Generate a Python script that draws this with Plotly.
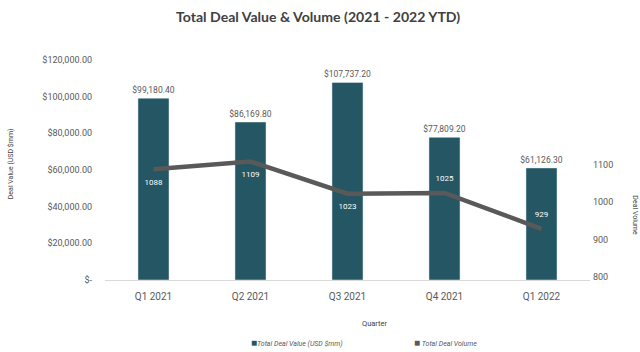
import plotly.graph_objects as go

quarters = ["Q1 2021", "Q2 2021", "Q3 2021", "Q4 2021", "Q1 2022"]
deal_value = [99180.40, 86169.80, 107737.20, 77809.20, 61126.30]
deal_volume = [1088, 1109, 1023, 1025, 929]
left_ticks = [0, 20000, 40000, 60000, 80000, 100000, 120000]
left_ticktext = ["$-", "$20,000.00", "$40,000.00", "$60,000.00", "$80,000.00", "$100,000.00", "$120,000.00"]
right_ticks = [800, 900, 1000, 1100]

BAR = "#245663"
LINE = "#595959"
GRAY = "#595959"
FONT = "Roboto, sans-serif"

fig = go.Figure()
fig.add_trace(go.Bar(
    x=quarters, y=deal_value, marker_color=BAR, width=0.32,
    text=[f"${v:,.2f}" for v in deal_value], textposition="outside",
    constraintext="none",
    textfont=dict(family=FONT, size=8.5, color=GRAY), cliponaxis=False,
    showlegend=False, yaxis="y",
))
fig.add_trace(go.Scatter(
    x=quarters, y=deal_volume, mode="lines+markers+text", yaxis="y2",
    line=dict(color=LINE, width=4.5),
    marker=dict(size=14, color="rgba(0,0,0,0)"),
    text=[str(v) for v in deal_volume],
    textposition=["bottom center", "bottom center", "bottom center", "top center", "top center"],
    textfont=dict(family=FONT, size=8, color="white"),
    showlegend=False,
))

fig.update_layout(
    width=640, height=352,
    margin=dict(l=105, r=50, t=60, b=72),
    paper_bgcolor="white", plot_bgcolor="white",
    title=dict(text="<b>Total Deal Value &amp; Volume (2021 - 2022 YTD)</b>",
               x=0.497, xanchor="center", y=1 - 17 / 352, yanchor="middle",
               font=dict(family="Lato, sans-serif", size=14.1, color="#404040")),
    bargap=0.5,
    xaxis=dict(showgrid=False, showline=True, linecolor="#d9d9d9", linewidth=1,
               tickfont=dict(family=FONT, size=10, color=GRAY),
               ticklabelstandoff=7),
    yaxis=dict(range=[0, 120000], tickvals=left_ticks, ticktext=left_ticktext,
               showgrid=False, zeroline=False, showline=False,
               tickfont=dict(family=FONT, size=9, color=GRAY),
               ticklabelstandoff=12),
    yaxis2=dict(overlaying="y", side="right", range=[792, 1380.5],
                tickvals=right_ticks, showgrid=False, zeroline=False, showline=False,
                tickfont=dict(family=FONT, size=9, color=GRAY),
                ticklabelstandoff=2),
    annotations=[
        dict(text="Deal Value (USD $mm)", xref="paper", yref="paper",
             x=-105 / 485 + 11 / 485, y=(279.5 - 164) / 219.5, textangle=-90,
             showarrow=False, xanchor="center", yanchor="middle",
             font=dict(family=FONT, size=7, color="#404040")),
        dict(text="Deal Volume", xref="paper", yref="paper",
             x=(635 - 105) / 485, y=(279.5 - 215) / 219.5, textangle=90,
             showarrow=False, xanchor="center", yanchor="middle",
             font=dict(family=FONT, size=7, color="#404040")),
        dict(text="Quarter", xref="paper", yref="paper",
             x=(375 - 105) / 485, y=-(323 - 279.5) / 219.5,
             showarrow=False, xanchor="center", yanchor="middle",
             font=dict(family=FONT, size=7.5, color="#404040")),
        dict(text=f"<span style='color:{BAR};font-size:10px'>■</span><i>Total Deal Value (USD $mm)</i>",
             xref="paper", yref="paper",
             x=(249 - 105) / 485, y=-(342 - 279.5) / 219.5,
             showarrow=False, xanchor="left", yanchor="middle",
             font=dict(family=FONT, size=7, color=GRAY)),
        dict(text=f"<span style='color:{LINE};font-size:10px'>■</span> <i>Total Deal Volume</i>",
             xref="paper", yref="paper",
             x=(412 - 105) / 485, y=-(342 - 279.5) / 219.5,
             showarrow=False, xanchor="left", yanchor="middle",
             font=dict(family=FONT, size=7, color=GRAY)),
    ],
)

fig.write_html("out.html")
